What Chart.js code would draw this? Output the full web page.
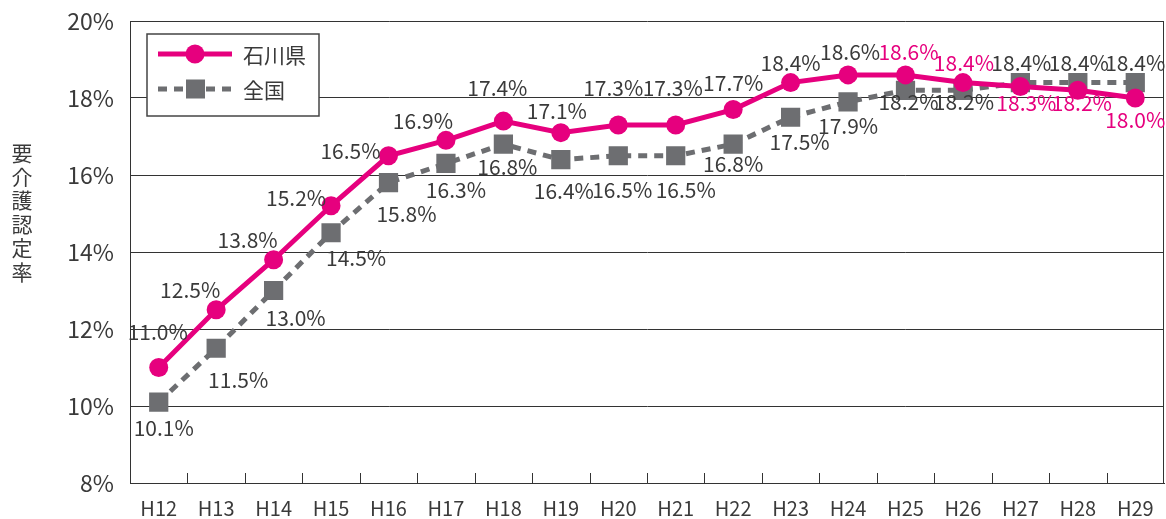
<!DOCTYPE html>
<html>
<head>
<meta charset="utf-8">
<script src="https://cdn.jsdelivr.net/npm/chart.js@4"></script>
<style>
  body { margin: 0; background: #fff; }
  #wrap { position: relative; width: 1166px; height: 519px; }
  #ytitle {
    position: absolute; left: 11px; top: 141px;
    font-family: "Noto Sans CJK JP", sans-serif;
    font-size: 21px; line-height: 23.7px; color: #3a3a3a; width: 22px; text-align: center;
  }
</style>
</head>
<body>
<div id="wrap">
  <canvas id="myChart" width="1166" height="519"></canvas>
  <div id="ytitle">要<br>介<br>護<br>認<br>定<br>率</div>
</div>
<script>
const years = ["H12","H13","H14","H15","H16","H17","H18","H19","H20","H21","H22","H23","H24","H25","H26","H27","H28","H29"];
const ishikawa = [11.0,12.5,13.8,15.2,16.5,16.9,17.4,17.1,17.3,17.3,17.7,18.4,18.6,18.6,18.4,18.3,18.2,18.0];
const zenkoku = [10.1,11.5,13.0,14.5,15.8,16.3,16.8,16.4,16.5,16.5,16.8,17.5,17.9,18.2,18.2,18.4,18.4,18.4];
const yTicks = [8,10,12,14,16,18,20];

// label offsets from the point, [dx, dy]
const ishikawaLabelPos = [[-1,-35],[-26,-20],[-26,-20],[-35,-8],[-38,-5],[-23,-19],[-6,-33],[-4,-22],[-5,-37],[-3,-37],[0,-27],[0,-20],[2,-23],[3,-23],[1,-20],[6,17],[4,13],[0,22]];
const zenkokuLabelPos = [[5,26],[22,32],[22,28],[25,25],[18,31],[10,27],[4,23],[3,31],[4,34],[10,34],[0,20],[9,25],[0,24],[3,12],[1,12],[1,-20],[1,-20],[0,-20]];
// pink labels where the prefecture label sits near the national one
const ishikawaLabelPink = [13,14,15,16,17];

const PINK = "#e6007e";
const GRAY = "#6d6e71";
const TEXT = "#3a3a3a";
const FONT = '"Noto Sans CJK JP", "Noto Sans", sans-serif';

const extras = {
    id: "extras",
    afterDatasetsDraw(chart) {
        const ctx = chart.ctx;
        const area = chart.chartArea;
        ctx.save();
        // inward ticks on x axis + right border
        ctx.strokeStyle = "#333";
        ctx.lineWidth = 1;
        const step = (area.right - area.left) / years.length;
        for (let i = 1; i < years.length; i++) {
            const x = Math.round(area.left + i * step) + 0.5;
            ctx.beginPath();
            ctx.moveTo(x, area.bottom);
            ctx.lineTo(x, area.bottom - 10);
            ctx.stroke();
        }
        ctx.beginPath();
        ctx.moveTo(Math.round(area.right) - 0.5, area.top);
        ctx.lineTo(Math.round(area.right) - 0.5, area.bottom);
        ctx.stroke();

        // data labels
        ctx.font = "21px " + FONT;
        ctx.textAlign = "center";
        ctx.textBaseline = "middle";
        const sets = [[0, ishikawaLabelPos], [1, zenkokuLabelPos]];
        sets.forEach(([di, pos]) => {
            const meta = chart.getDatasetMeta(di);
            const vals = chart.data.datasets[di].data;
            meta.data.forEach((pt, i) => {
                ctx.fillStyle = (di === 0 && ishikawaLabelPink.includes(i)) ? PINK : TEXT;
                ctx.fillText(vals[i].toFixed(1) + "%", pt.x + pos[i][0], pt.y + pos[i][1]);
            });
        });

        // legend box
        const lx = area.left + 17, ly = area.top + 13, lw = 172, lh = 82;
        ctx.fillStyle = "#fff";
        ctx.fillRect(lx, ly, lw, lh);
        ctx.strokeStyle = "#444";
        ctx.lineWidth = 1.5;
        ctx.strokeRect(lx, ly, lw, lh);
        const rows = [ly + 20, ly + 55];
        chart.data.datasets.forEach((ds, i) => {
            const y = rows[i];
            ctx.strokeStyle = ds.borderColor;
            ctx.lineWidth = ds.borderWidth;
            ctx.setLineDash(ds.borderDash || []);
            ctx.beginPath();
            ctx.moveTo(lx + 11, y);
            ctx.lineTo(lx + 85, y);
            ctx.stroke();
            ctx.setLineDash([]);
            ctx.fillStyle = ds.pointBackgroundColor;
            if (ds.pointStyle === "circle") {
                ctx.beginPath();
                ctx.arc(lx + 48, y, 9.5, 0, Math.PI * 2);
                ctx.fill();
            } else {
                ctx.fillRect(lx + 39, y - 9.5, 19, 19);
            }
            ctx.fillStyle = TEXT;
            ctx.textAlign = "left";
            ctx.font = "21px " + FONT;
            ctx.fillText(ds.label, lx + 96, y + 1);
        });
        ctx.restore();
    }
};

new Chart(document.getElementById("myChart"), {
    type: "line",
    data: {
        labels: years,
        datasets: [
            {
                label: "石川県",
                data: ishikawa,
                borderColor: PINK,
                borderWidth: 5,
                pointStyle: "circle",
                pointRadius: 9.5,
                pointBackgroundColor: PINK,
                pointBorderWidth: 0,
                tension: 0
            },
            {
                label: "全国",
                data: zenkoku,
                borderColor: GRAY,
                borderWidth: 5,
                borderDash: [9, 7],
                pointStyle: "rect",
                pointRadius: 13.6,
                pointBackgroundColor: GRAY,
                pointBorderWidth: 0,
                tension: 0
            }
        ]
    },
    options: {
        responsive: false,
        devicePixelRatio: 1,
        animation: false,
        layout: { autoPadding: false, padding: { top: 21, right: 2, left: 0, bottom: 0 } },
        plugins: { legend: { display: false }, tooltip: { enabled: false } },
        scales: {
            x: {
                offset: true,
                grid: { display: false },
                border: { display: true, color: "#333", width: 1 },
                ticks: { color: TEXT, font: { family: FONT, size: 20 }, padding: 5, maxRotation: 0 },
                afterFit: (s) => { s.height = 36; s.paddingLeft = 0; s.paddingRight = 0; }
            },
            y: {
                min: 8,
                max: 20,
                afterBuildTicks: (s) => { s.ticks = yTicks.map(v => ({ value: v })); },
                grid: { color: "#333", lineWidth: 1, drawTicks: false },
                border: { display: true, color: "#333", width: 1 },
                ticks: {
                    color: TEXT, padding: 16,
                    font: { family: FONT, size: 23 },
                    callback: (v) => v + "%"
                },
                afterFit: (s) => { s.width = 130; s.paddingTop = 0; s.paddingBottom = 0; }
            }
        }
    },
    plugins: [extras]
});
</script>
</body>
</html>
